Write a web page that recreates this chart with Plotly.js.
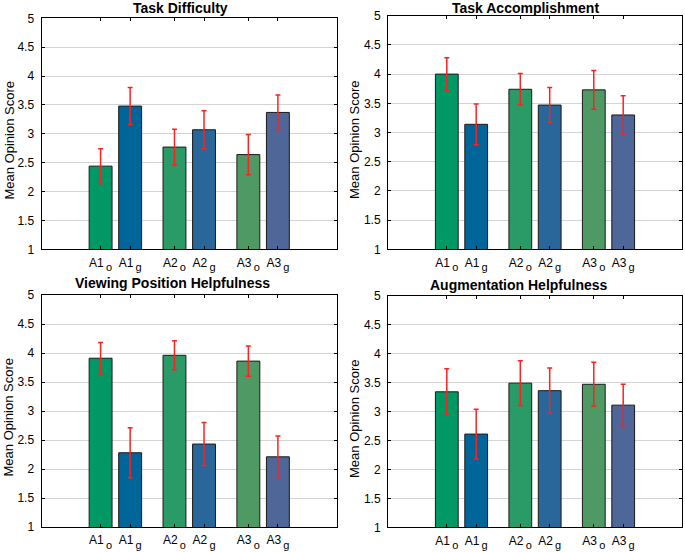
<!DOCTYPE html>
<html>
<head>
<meta charset="utf-8">
<script src="https://cdn.plot.ly/plotly-3.0.1.min.js"></script>
<style>html,body{margin:0;padding:0;background:#fff;}#chart{width:685px;height:552px;}</style>
</head>
<body>
<div id="chart"></div>
<script>
// ---- data ----
var catMain = ["A1", "A1", "A2", "A2", "A3", "A3"];
var catSub  = ["o", "g", "o", "g", "o", "g"];
var panelTitles = ["Task Difficulty", "Task Accomplishment", "Viewing Position Helpfulness", "Augmentation Helpfulness"];
var yTickVals = [1, 1.5, 2, 2.5, 3, 3.5, 4, 4.5, 5];
var yTickText = ["1", "1.5", "2", "2.5", "3", "3.5", "4", "4.5", "5"];

var difficulty       = [2.44, 3.48, 2.77, 3.07, 2.64, 3.37];
var difficultyErr    = [0.30, 0.32, 0.31, 0.33, 0.35, 0.30];
var accomplishment   = [4.00, 3.14, 3.74, 3.47, 3.73, 3.30];
var accomplishmentErr= [0.28, 0.35, 0.27, 0.30, 0.33, 0.33];
var viewing          = [3.91, 2.28, 3.96, 2.43, 3.86, 2.21];
var viewingErr       = [0.27, 0.43, 0.25, 0.37, 0.26, 0.36];
var augmentation     = [3.34, 2.61, 3.49, 3.36, 3.47, 3.11];
var augmentationErr  = [0.40, 0.43, 0.385, 0.39, 0.38, 0.36];

// ---- styling ----
var barColors = ["#009966", "#006699", "#2a9a66", "#296699", "#4f9a64", "#4f6699"];
var groupOf = [1, 1, 2, 2, 3, 3];
var offsetOf = [-0.2, 0.2, -0.2, 0.2, -0.2, 0.2];
var xPos = groupOf.map(function (g, i) { return g + offsetOf[i]; });
var tickText = catMain.map(function (m, i) {
  return '<span style="font-size:12px">' + m + '</span><sub><span style="font-size:11px">\u2009' + catSub[i] + '</span></sub>';
});

var series = [difficulty, accomplishment, viewing, augmentation];
var errors = [difficultyErr, accomplishmentErr, viewingErr, augmentationErr];

var W = 685, H = 552;
// pixel boxes [left, right, top, bottom]
var boxes = [
  [41.5, 337, 18.3, 249.3],
  [388, 682, 15.7, 249.3],
  [41.5, 337, 295, 527],
  [388, 682, 295.7, 527.3]
];
var titlePos = [[180, 8], [525, 8], [172.5, 283], [519, 285]];
var ylabPos = [[8.5, 140], [354, 140], [7.5, 417], [354, 419]];

var FONT = "Liberation Sans, Arial, Helvetica, sans-serif";
var traces = [];
var layout = {
  width: W, height: H,
  margin: {l: 0, r: 0, t: 0, b: 0},
  paper_bgcolor: "#fff", plot_bgcolor: "#fff",
  showlegend: false,
  font: {family: FONT, color: "#000"},
  annotations: []
};

for (var p = 0; p < 4; p++) {
  var sfx = p === 0 ? "" : String(p + 1);
  traces.push({
    type: "bar",
    x: xPos,
    y: series[p],
    width: 0.31,
    base: 0,
    xaxis: "x" + sfx,
    yaxis: "y" + sfx,
    marker: {color: barColors, line: {color: "#1a1a1a", width: 1}},
    error_y: {type: "data", array: errors[p], visible: true, color: "#ff2020", thickness: 1.5, width: 2.5},
    hoverinfo: "skip"
  });
  var b = boxes[p];
  layout["xaxis" + sfx] = {
    domain: [b[0] / W, b[1] / W],
    range: [0, 4],
    anchor: "y" + sfx,
    tickmode: "array",
    tickvals: xPos,
    ticktext: tickText,
    ticks: "inside", ticklen: 3, tickcolor: "#000", tickwidth: 1,
    showline: true, linecolor: "#000", linewidth: 1, mirror: "ticks",
    showgrid: false, zeroline: false,
    ticklabelstandoff: -10,
    tickfont: {family: FONT, size: 22, color: "#000"},
    fixedrange: true
  };
  layout["yaxis" + sfx] = {
    domain: [(H - b[3]) / H, (H - b[2]) / H],
    range: [1, 5],
    anchor: "x" + sfx,
    tickmode: "array",
    tickvals: yTickVals,
    ticktext: yTickText,
    ticks: "inside", ticklen: 3, tickcolor: "#000", tickwidth: 1,
    showline: true, linecolor: "#000", linewidth: 1, mirror: "ticks",
    showgrid: true, gridcolor: "#d4d4d4", gridwidth: 1,
    zeroline: false,
    ticklabelstandoff: 4,
    tickfont: {family: FONT, size: 12, color: "#000"},
    fixedrange: true
  };
  layout.annotations.push({
    xref: "paper", yref: "paper",
    x: titlePos[p][0] / W, y: 1 - titlePos[p][1] / H,
    xanchor: "center", yanchor: "middle",
    text: "<b>" + panelTitles[p] + "</b>",
    showarrow: false,
    font: {family: FONT, size: 14, color: "#000"}
  });
  layout.annotations.push({
    xref: "paper", yref: "paper",
    x: ylabPos[p][0] / W, y: 1 - ylabPos[p][1] / H,
    xanchor: "center", yanchor: "middle",
    text: "Mean Opinion Score",
    textangle: -90,
    showarrow: false,
    font: {family: FONT, size: 13, color: "#000"}
  });
}

Plotly.newPlot("chart", traces, layout, {staticPlot: true, displayModeBar: false});
</script>
</body>
</html>
